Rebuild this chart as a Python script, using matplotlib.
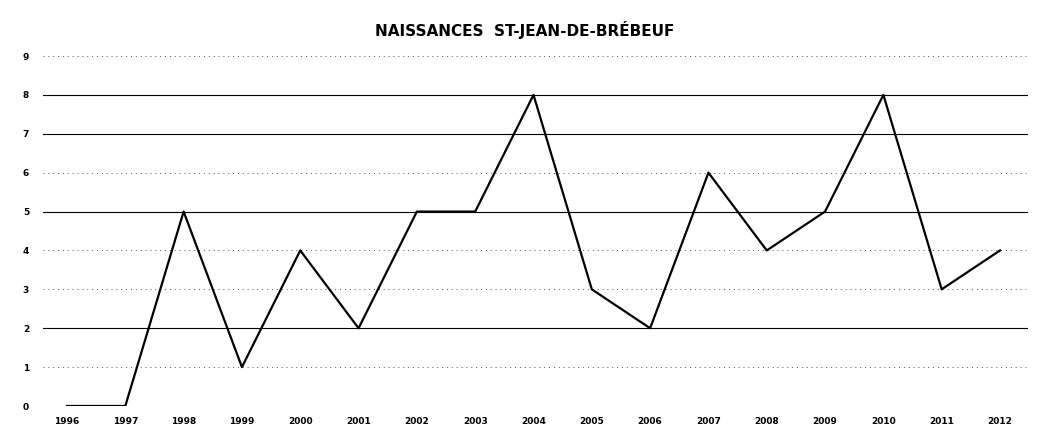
import matplotlib.pyplot as plt
import numpy as np

# births per year
years = [1996, 1997, 1998, 1999, 2000, 2001, 2002, 2003, 2004,
         2005, 2006, 2007, 2008, 2009, 2010, 2011, 2012]
births = [0, 0, 5, 1, 4, 2, 5, 5, 8, 3, 2, 6, 4, 5, 8, 3, 4]
year_labels = ["1996", "1997", "1998", "1999", "2000", "2001", "2002", "2003", "2004",
               "2005", "2006", "2007", "2008", "2009", "2010", "2011", "2012"]
y_ticks = [0, 1, 2, 3, 4, 5, 6, 7, 8, 9]

plt.rcParams['font.family'] = ['Liberation Sans Narrow', 'DejaVu Sans']

W, H = 1049, 436
fig = plt.figure(figsize=(W / 100, H / 100), dpi=100)
fig.patch.set_facecolor("white")

# axes placed in pixels: 1996 at x=67, 2012 at x=1000, y=0 at 406, y=9 at 56 (from top)
left, right = 43, 1028
bottom, top = 436 - 406, 436 - 56
ax = fig.add_axes([left / W, bottom / H, (right - left) / W, (top - bottom) / H])

px_per_year = (1000 - 67) / 16
ax.set_xlim(1996 - (67 - left) / px_per_year, 2012 + (right - 1000) / px_per_year)
ax.set_ylim(0, 9)

# gridlines (scan made some look solid, others faint)
for v in y_ticks[1:]:
    if v in (2, 5, 7, 8):
        ax.axhline(v, color="black", lw=0.8, zorder=1)
    else:
        ax.axhline(v, color="#555555", lw=0.7, ls=(0, (1, 4)), zorder=1)

ax.plot(years, births, color="black", lw=1.6, zorder=3)

ax.set_xticks(years)
ax.set_xticklabels(year_labels, fontsize=6.5, fontweight="bold")
ax.set_yticks(y_ticks)
ax.set_yticklabels([str(v) for v in y_ticks], fontsize=6.5, fontweight="bold")
ax.tick_params(length=0, pad=8)
ax.tick_params(axis="y", pad=10)
for s in ax.spines.values():
    s.set_visible(False)

fig.text(0.5, 1 - 30 / H, "NAISSANCES  ST-JEAN-DE-BRÉBEUF", ha="center", va="center",
         fontsize=11, fontweight="bold")

fig.savefig("out.png", dpi=100)
